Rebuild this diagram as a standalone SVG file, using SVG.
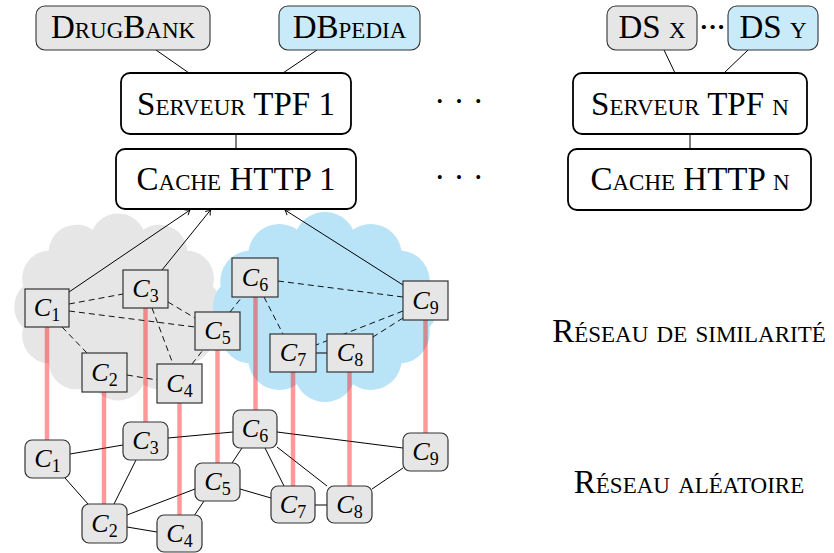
<svg xmlns="http://www.w3.org/2000/svg" width="834" height="553" viewBox="0 0 834 553">
<style>
.t{font-family:"Liberation Serif","DejaVu Serif",serif;font-size:33px;font-variant:small-caps;fill:#000}
.big{fill:#fff;stroke:#000;stroke-width:1.8}
.ds{stroke:#333;stroke-width:1.1}
.g{fill:#e6e6e6}
.b{fill:#c9eaf9}
.sq{fill:#e6e6e6;stroke:#333;stroke-width:1.2}
.m{font-family:"Liberation Serif","DejaVu Serif",serif;font-size:26px;font-style:italic;fill:#000;text-anchor:middle}
.m tspan{font-style:normal;font-size:18px}
.ln{stroke:#000;stroke-width:1;fill:none}
.dash{stroke:#111;stroke-width:1;stroke-dasharray:6 4;fill:none}
.red{stroke:#ff0000;stroke-opacity:0.4;stroke-width:4.5;fill:none}
</style>
<defs>
<marker id="ah" markerWidth="10" markerHeight="10" refX="0" refY="0" viewBox="-6 -5 8 10" orient="auto" markerUnits="userSpaceOnUse">
<path d="M-4.5,-3.2 Q-1.5,-0.8 0,0 Q-1.5,0.8 -4.5,3.2" fill="none" stroke="#000" stroke-width="0.9"/>
</marker>
</defs>

<g id="clouds">
<path fill="#e6e6e6" d="M212.7,327.7 A28,28 0 0 1 187.3,363.6 A28,28 0 0 1 143.4,384.3 A28,28 0 0 1 92.6,384.3 A28,28 0 0 1 48.7,363.6 A28,28 0 0 1 23.3,327.7 A28,28 0 0 1 23.3,286.3 A28,28 0 0 1 48.7,250.4 A28,28 0 0 1 92.6,229.7 A28,28 0 0 1 143.4,229.7 A28,28 0 0 1 187.3,250.4 A28,28 0 0 1 212.7,286.3 A28,28 0 0 1 212.7,327.7 Z"/>
<path fill="#b9e3f7" d="M429.3,327.7 A31,31 0 0 1 401.4,363.6 A31,31 0 0 1 353,384.3 A31,31 0 0 1 297,384.3 A31,31 0 0 1 248.6,363.6 A31,31 0 0 1 220.7,327.7 A31,31 0 0 1 220.7,286.3 A31,31 0 0 1 248.6,250.4 A31,31 0 0 1 297,229.7 A31,31 0 0 1 353,229.7 A31,31 0 0 1 401.4,250.4 A31,31 0 0 1 429.3,286.3 A31,31 0 0 1 429.3,327.7 Z"/>
</g>

<g id="connectors">
<line class="ln" x1="156" y1="50" x2="189" y2="73"/>
<line class="ln" x1="317" y1="50" x2="283" y2="73"/>
<line class="ln" x1="236" y1="134" x2="236" y2="149"/>
<line class="ln" x1="664" y1="50" x2="675" y2="73"/>
<line class="ln" x1="748" y1="50" x2="724" y2="73"/>
<line class="ln" x1="690" y1="134" x2="690" y2="149"/>
<line class="ln" x1="69" y1="292" x2="190" y2="210" marker-end="url(#ah)"/>
<line class="ln" x1="162" y1="270" x2="210.5" y2="210" marker-end="url(#ah)"/>
<line class="ln" x1="403" y1="285" x2="285" y2="210" marker-end="url(#ah)"/>
<line class="dash" x1="69" y1="304" x2="123" y2="294"/>
<line class="dash" x1="69" y1="311" x2="195" y2="327"/>
<line class="dash" x1="62" y1="327" x2="87" y2="353"/>
<line class="dash" x1="168" y1="302" x2="195" y2="318"/>
<line class="dash" x1="152" y1="308" x2="173" y2="364"/>
<line class="dash" x1="127" y1="375" x2="157" y2="380"/>
<line class="dash" x1="192" y1="364" x2="203" y2="350"/>
<line class="dash" x1="230" y1="312" x2="242" y2="297"/>
<line class="dash" x1="278" y1="281" x2="403" y2="297"/>
<line class="dash" x1="264" y1="297" x2="283" y2="334"/>
<line class="dash" x1="403" y1="311" x2="316" y2="345"/>
<line class="dash" x1="403" y1="318" x2="373" y2="337"/>
<line class="ln" x1="316" y1="353" x2="327" y2="353"/>
<line class="ln" x1="70" y1="454" x2="123" y2="445"/>
<line class="ln" x1="65" y1="478" x2="88" y2="504"/>
<line class="ln" x1="136" y1="460" x2="114" y2="504"/>
<line class="ln" x1="168" y1="438" x2="233" y2="432"/>
<line class="ln" x1="127" y1="515" x2="195" y2="489"/>
<line class="ln" x1="127" y1="527" x2="157" y2="532"/>
<line class="ln" x1="194" y1="516" x2="204" y2="501"/>
<line class="ln" x1="232" y1="463" x2="242" y2="448"/>
<line class="ln" x1="240" y1="489" x2="271" y2="498"/>
<line class="ln" x1="265" y1="448" x2="284" y2="486"/>
<line class="ln" x1="277" y1="447" x2="327" y2="486"/>
<line class="ln" x1="277" y1="432" x2="403" y2="448"/>
<line class="ln" x1="315" y1="505" x2="327" y2="505"/>
<line class="ln" x1="372" y1="489" x2="403" y2="468"/>
<line class="red" x1="47" y1="327" x2="47" y2="440"/>
<line class="red" x1="104" y1="392" x2="104" y2="504"/>
<line class="red" x1="145.5" y1="308" x2="145.5" y2="422"/>
<line class="red" x1="179.5" y1="403" x2="179.5" y2="516"/>
<line class="red" x1="217.5" y1="350" x2="217.5" y2="463"/>
<line class="red" x1="255.5" y1="297" x2="255.5" y2="410"/>
<line class="red" x1="293" y1="372" x2="293" y2="486"/>
<line class="red" x1="349.5" y1="372" x2="349.5" y2="486"/>
<line class="red" x1="425.5" y1="320" x2="425.5" y2="433"/>
</g>

<g id="drugbank"><rect class="g ds" x="36" y="6" width="174" height="44" rx="9"/><text class="t" x="123" y="38" text-anchor="middle">DrugBank</text></g>
<g id="dbpedia"><rect class="b ds" x="279" y="6" width="141" height="44" rx="9"/><text class="t" x="349.5" y="38" text-anchor="middle">DBpedia</text></g>
<g id="serveur1"><rect class="big" x="121" y="73" width="230" height="61" rx="9"/><text class="t" x="236" y="115" text-anchor="middle">Serveur TPF 1</text></g>
<g id="cache1"><rect class="big" x="116" y="149" width="240" height="60" rx="9"/><text class="t" x="236" y="190" text-anchor="middle">Cache HTTP 1</text></g>
<g id="dsx"><rect class="g ds" x="607" y="6" width="90" height="44" rx="9"/><text class="t" x="652" y="38" text-anchor="middle">DS x</text></g>
<g id="dsy"><rect class="b ds" x="728" y="6" width="90" height="44" rx="9"/><text class="t" x="773" y="38" text-anchor="middle">DS y</text></g>
<g id="dsdots"><text class="t" x="712.5" y="35" text-anchor="middle" font-weight="bold" style="font-size:26px">···</text></g>
<g id="serveurn"><rect class="big" x="573" y="73" width="234" height="61" rx="9"/><text class="t" x="690" y="115" text-anchor="middle">Serveur TPF n</text></g>
<g id="cachen"><rect class="big" x="568" y="149" width="243" height="61" rx="9"/><text class="t" x="690" y="190" text-anchor="middle">Cache HTTP n</text></g>
<g id="dots1"><text class="t" x="459" y="112" text-anchor="middle">· · ·</text></g>
<g id="dots2"><text class="t" x="459" y="188" text-anchor="middle">· · ·</text></g>

<g id="s1"><rect class="sq" x="25" y="289" width="44" height="38"/><text class="m" x="47" y="316">C<tspan dy="5">1</tspan></text></g>
<g id="s3"><rect class="sq" x="123" y="270" width="45" height="38"/><text class="m" x="145.5" y="297">C<tspan dy="5">3</tspan></text></g>
<g id="s5"><rect class="sq" x="195" y="312" width="45" height="38"/><text class="m" x="217.5" y="339">C<tspan dy="5">5</tspan></text></g>
<g id="s6"><rect class="sq" x="232" y="258" width="46" height="39"/><text class="m" x="255" y="285.5">C<tspan dy="5">6</tspan></text></g>
<g id="s9"><rect class="sq" x="403" y="281" width="45" height="39"/><text class="m" x="425.5" y="308.5">C<tspan dy="5">9</tspan></text></g>
<g id="s7"><rect class="sq" x="270" y="334" width="46" height="38"/><text class="m" x="293" y="361">C<tspan dy="5">7</tspan></text></g>
<g id="s8"><rect class="sq" x="327" y="334" width="46" height="38"/><text class="m" x="350" y="361">C<tspan dy="5">8</tspan></text></g>
<g id="s2"><rect class="sq" x="82" y="353" width="45" height="39"/><text class="m" x="104.5" y="380.5">C<tspan dy="5">2</tspan></text></g>
<g id="s4"><rect class="sq" x="157" y="364" width="45" height="39"/><text class="m" x="179.5" y="391.5">C<tspan dy="5">4</tspan></text></g>

<g id="r1"><rect class="sq" x="25" y="440" width="45" height="38" rx="7"/><text class="m" x="47.5" y="467">C<tspan dy="5">1</tspan></text></g>
<g id="r3"><rect class="sq" x="123" y="422" width="45" height="38" rx="7"/><text class="m" x="145.5" y="449">C<tspan dy="5">3</tspan></text></g>
<g id="r6"><rect class="sq" x="233" y="410" width="44" height="38" rx="7"/><text class="m" x="255" y="437">C<tspan dy="5">6</tspan></text></g>
<g id="r9"><rect class="sq" x="403" y="433" width="45" height="38" rx="7"/><text class="m" x="425.5" y="460">C<tspan dy="5">9</tspan></text></g>
<g id="r5"><rect class="sq" x="195" y="463" width="45" height="38" rx="7"/><text class="m" x="217.5" y="490">C<tspan dy="5">5</tspan></text></g>
<g id="r7"><rect class="sq" x="271" y="486" width="44" height="37" rx="7"/><text class="m" x="293" y="512.5">C<tspan dy="5">7</tspan></text></g>
<g id="r8"><rect class="sq" x="327" y="486" width="45" height="37" rx="7"/><text class="m" x="349.5" y="512.5">C<tspan dy="5">8</tspan></text></g>
<g id="r2"><rect class="sq" x="82" y="504" width="45" height="39" rx="7"/><text class="m" x="104.5" y="531.5">C<tspan dy="5">2</tspan></text></g>
<g id="r4"><rect class="sq" x="157" y="515" width="45" height="37" rx="7"/><text class="m" x="179.5" y="541.5">C<tspan dy="5">4</tspan></text></g>

<g id="labels">
<text class="t" x="689" y="342" text-anchor="middle">Réseau de similarité</text>
<text class="t" x="689" y="493" text-anchor="middle">Réseau aléatoire</text>
</g>
</svg>
